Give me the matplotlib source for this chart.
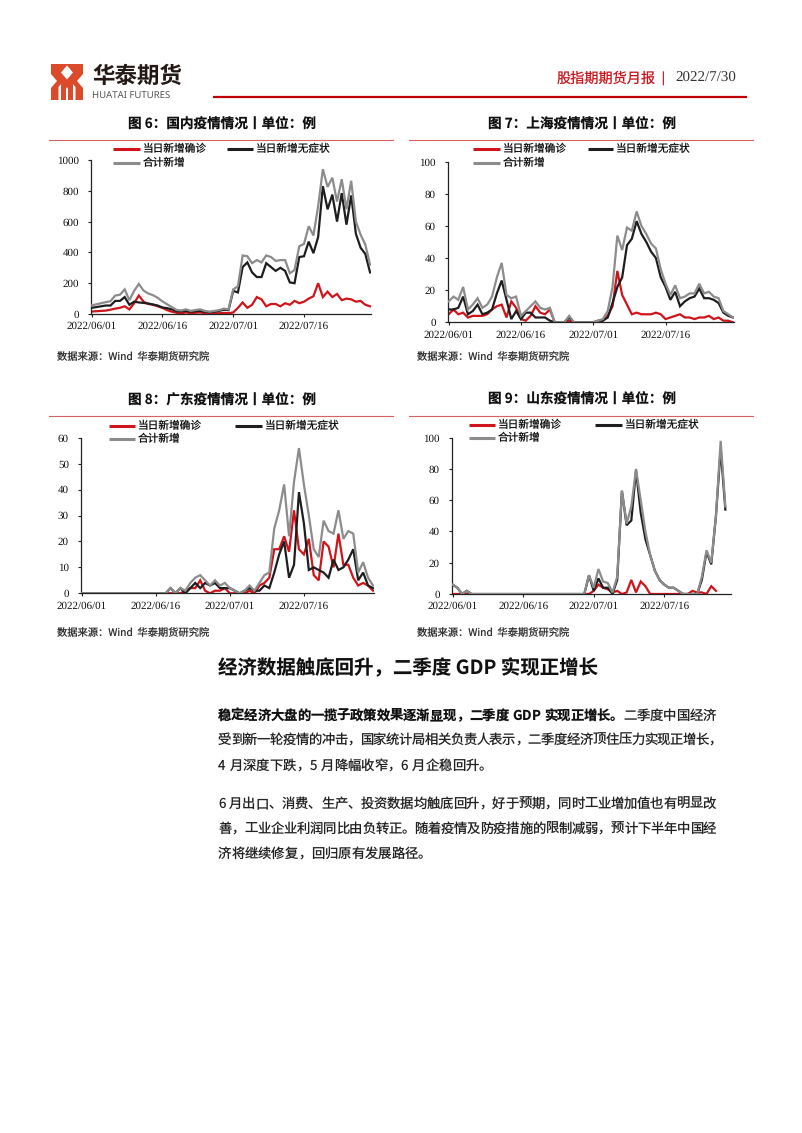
import numpy as np
import pandas as pd
import matplotlib
matplotlib.use("Agg")
import matplotlib.pyplot as plt
import matplotlib.dates as mdates
from matplotlib.patches import Rectangle, Polygon

plt.rcParams['font.family'] = ['Noto Sans CJK SC', 'DejaVu Sans']
plt.rcParams['text.hinting'] = 'no_hinting'
plt.rcParams['text.hinting_factor'] = 1

# ---------------- data ----------------
dates = pd.date_range('2022-06-01', periods=60, freq='D')
tick_dates = ['2022-06-01', '2022-06-16', '2022-07-01', '2022-07-16']
series_names = ['当日新增确诊', '当日新增无症状', '合计新增']

# 图6 国内
nat_confirmed = [16, 18, 20, 22, 28, 35, 40, 50, 30, 70,
                 120, 80, 65, 60, 50, 40, 25, 15, 8, 5,
                 10, 5, 8, 10, 5, 3, 5, 5, 7, 5,
                 10, 40, 75, 40, 60, 110, 95, 50, 65, 65,
                 50, 70, 60, 85, 70, 80, 100, 115, 200, 110,
                 145, 110, 130, 90, 100, 95, 80, 85, 60, 50]
nat_asym = [40, 45, 50, 55, 55, 85, 85, 110, 60, 80,
            75, 72, 68, 62, 55, 42, 38, 30, 18, 18,
            20, 15, 18, 20, 15, 12, 15, 20, 28, 25,
            150, 140, 305, 335, 270, 240, 240, 330, 305, 280,
            300, 280, 205, 200, 370, 375, 470, 395, 500, 830,
            680, 775, 600, 785, 580, 770, 520, 430, 390, 270]
nat_total = [56, 63, 70, 77, 83, 120, 125, 160, 90, 150,
             195, 152, 133, 122, 105, 82, 63, 45, 26, 23,
             30, 20, 26, 30, 20, 15, 20, 25, 35, 30,
             160, 180, 380, 375, 330, 350, 335, 380, 370, 345,
             350, 350, 265, 285, 440, 455, 570, 510, 700, 940,
             825, 885, 730, 875, 680, 865, 600, 515, 450, 320]

# 图7 上海
sh_confirmed = [5, 8, 5, 6, 3, 4, 4, 4, 5, 8,
                10, 11, 3, 13, 9, 2, 1, 4, 10, 6,
                5, 8, 0, 0, 0, 1, 0, 0, 0, 0,
                0, 0, 1, 4, 10, 32, 17, 11, 5, 6,
                5, 5, 5, 6, 5, 2, 3, 4, 5, 3,
                3, 2, 3, 3, 4, 2, 3, 1, 1, 0]
sh_asym = [8, 8, 9, 16, 5, 7, 11, 5, 6, 8,
           18, 26, 14, 2, 7, 2, 6, 6, 3, 3,
           3, 1, 0, 0, 0, 3, 0, 0, 0, 0,
           0, 1, 1, 3, 12, 22, 28, 48, 52, 63,
           55, 50, 44, 40, 28, 22, 14, 19, 10, 13,
           15, 16, 21, 15, 15, 14, 12, 6, 4, 3]
sh_total = [13, 16, 14, 22, 8, 11, 15, 9, 11, 16,
            28, 37, 17, 15, 16, 4, 7, 10, 13, 9,
            8, 9, 0, 0, 0, 4, 0, 0, 0, 0,
            0, 1, 2, 7, 22, 54, 45, 59, 57, 69,
            60, 55, 49, 46, 33, 24, 17, 23, 15, 16,
            18, 18, 24, 18, 19, 16, 15, 7, 5, 3]

# 图8 广东
gd_confirmed = [None] * 16 + [0, 0, 0, 0, 0, 1, 2, 2, 5, 1,
                              0, 1, 1, 2, 0, 0, 0, 0, 1, 0,
                              3, 4, 6, 17, 17, 22, 16, 32, 17, 15,
                              21, 7, 5, 20, 18, 10, 23, 11, 11, 6,
                              3, 4, 3, 1]
gd_asym = [0] * 18 + [2, 0, 2, 0, 2, 4, 2, 4, 3, 4,
                      2, 2, 2, 1, 0, 1, 2, 1, 1, 3,
                      2, 8, 15, 20, 6, 11, 39, 27, 9, 10,
                      9, 8, 6, 13, 9, 10, 13, 17, 5, 8,
                      3, 2]
gd_total = [0] * 18 + [2, 0, 2, 1, 4, 6, 7, 5, 3, 5,
                       3, 4, 2, 1, 0, 1, 3, 1, 4, 7,
                       8, 25, 32, 42, 22, 43, 56, 42, 30, 17,
                       14, 28, 24, 23, 32, 21, 24, 23, 8, 12,
                       6, 3]

# 图9 山东 (59 days)
sd_confirmed = [0, 0, 0, 0, 0] + [None] * 23 + [0, 0, 2, 6, 4, 3, 1, 2, 0, 1,
                                                9, 1, 8, 5, 0, 0, 0, 0, 0, 0,
                                                0, 0, 0, 2, 1, 1, 0, 5, 2]
sd_asym = [6, 4, 0, 2, 0] + [0] * 24 + [12, 2, 10, 4, 4, 0, 9, 66, 44,
                                         47, 79, 52, 35, 25, 15, 9, 6, 4, 4,
                                         2, 0, 0, 0, 0, 9, 27, 19, 50, 93, 54]
sd_total = [6, 4, 0, 2, 0] + [0] * 24 + [12, 4, 16, 8, 7, 1, 11, 66, 45,
                                          56, 80, 60, 40, 25, 15, 9, 6, 4, 4,
                                          2, 0, 0, 0, 0, 11, 28, 20, 50, 98, 56]

charts = [
    dict(title='图 6：国内疫情情况丨单位：例', data=(nat_confirmed, nat_asym, nat_total),
         yticks=[0, 200, 400, 600, 800, 1000]),
    dict(title='图 7：上海疫情情况丨单位：例', data=(sh_confirmed, sh_asym, sh_total),
         yticks=[0, 20, 40, 60, 80, 100]),
    dict(title='图 8：广东疫情情况丨单位：例', data=(gd_confirmed, gd_asym, gd_total),
         yticks=[0, 10, 20, 30, 40, 50, 60]),
    dict(title='图 9：山东疫情情况丨单位：例', data=(sd_confirmed, sd_asym, sd_total),
         yticks=[0, 20, 40, 60, 80, 100]),
]

# ---------------- layout (pixels) ----------------
W, H = 802, 1133
RED = '#D0141B'
BLACK = '#1E1E1E'
GRAY = '#8C8C8C'
colors = [RED, BLACK, GRAY]
zorders = [2, 3, 4]

layouts = [
    dict(rect=(90.7, 160.0, 371.0, 314.0), tx=222, ty=124, rule=(49, 393, 140),
         leg=(112.7, 140.0, 226.7, 253.3, 149.0, 162.7), src=(57, 357)),
    dict(rect=(447.7, 161.7, 734.0, 322.3), tx=582, ty=124, rule=(409, 753, 140),
         leg=(473.3, 500.0, 588.3, 613.3, 149.0, 162.7), src=(417, 357)),
    dict(rect=(80.7, 437.7, 374.0, 593.3), tx=222, ty=399, rule=(49, 393, 416),
         leg=(109.3, 135.0, 235.0, 261.7, 425.7, 439.3), src=(57, 633)),
    dict(rect=(451.7, 437.7, 731.0, 594.0), tx=582, ty=399, rule=(409, 753, 416),
         leg=(469.3, 495.0, 595.0, 621.7, 425.0, 438.3), src=(417, 633)),
]

fig = plt.figure(figsize=(W / 100, H / 100), dpi=100)
fig.patch.set_facecolor('white')

ov = fig.add_axes([0, 0, 1, 1], zorder=10)
ov.set_xlim(0, W)
ov.set_ylim(H, 0)
ov.axis('off')
ov.patch.set_alpha(0)


def rect_frac(l, t, r, b):
    return [l / W, 1 - b / H, (r - l) / W, (b - t) / H]


serif = 'Liberation Serif'
x0 = mdates.date2num(dates[0])

for ch, lay in zip(charts, layouts):
    ax = fig.add_axes(rect_frac(*lay['rect']))
    for vals, c, z in zip(ch['data'], colors, zorders):
        y = np.array([np.nan if v is None else v for v in vals], dtype=float)
        ax.plot(dates[:len(y)], y, color=c, lw=1.6, zorder=z, solid_joinstyle='miter')
    ax.set_ylim(ch['yticks'][0], ch['yticks'][-1])
    ax.set_xlim(x0 - 0.2, x0 + 59.2)
    ax.set_yticks(ch['yticks'])
    ax.set_xticks([mdates.date2num(pd.Timestamp(d)) for d in tick_dates])
    ax.xaxis.set_major_formatter(mdates.DateFormatter('%Y/%m/%d'))
    for s in ['top', 'right']:
        ax.spines[s].set_visible(False)
    for s in ['left', 'bottom']:
        ax.spines[s].set_color('#222222')
        ax.spines[s].set_linewidth(0.9)
    ax.tick_params(axis='both', direction='out', length=2.5, width=0.8, color='#222222',
                   labelsize=7.8, pad=3)
    ax.tick_params(axis='y', pad=6)
    for lab in ax.get_xticklabels() + ax.get_yticklabels():
        lab.set_fontfamily(serif)
        lab.set_color('#111111')
    ax.set_facecolor('none')

    ov.text(lay['tx'], lay['ty'], ch['title'], ha='center', va='center', fontsize=9.8,
            fontweight='bold', color='#111111')
    r0, r1, ry = lay['rule']
    ov.plot([r0, r1], [ry, ry], color='#D86060', lw=0.8)
    a0, a1, b0, b1, y1, y2 = lay['leg']
    ov.plot([a0, a1], [y1, y1], color=RED, lw=2.2, solid_capstyle='butt')
    ov.text(a1 + 2.5, y1, series_names[0], va='center', ha='left', fontsize=7.7, color='#111111')
    ov.plot([b0, b1], [y1, y1], color=BLACK, lw=2.2, solid_capstyle='butt')
    ov.text(b1 + 3, y1, series_names[1], va='center', ha='left', fontsize=7.7, color='#111111')
    ov.plot([a0, a1], [y2, y2], color=GRAY, lw=2.2, solid_capstyle='butt')
    ov.text(a1 + 2.5, y2, series_names[2], va='center', ha='left', fontsize=7.7, color='#111111')
    ov.text(lay['src'][0], lay['src'][1], '数据来源：Wind  华泰期货研究院', va='center', ha='left',
            fontsize=7.4, color='#333333')

# ---------------- header ----------------
LOGO = '#DC4A2C'
ov.add_patch(Rectangle((51, 64), 32, 36, facecolor=LOGO, edgecolor='none'))
ov.add_patch(Polygon([(67, 65.5), (73, 72.5), (67, 79.5), (61, 72.5)], closed=True,
                     facecolor='white', edgecolor='none'))
ov.add_patch(Polygon([(51, 74), (57, 81), (51, 88)], closed=True, facecolor='white', edgecolor='none'))
ov.add_patch(Polygon([(83, 74), (77, 81), (83, 88)], closed=True, facecolor='white', edgecolor='none'))
ov.add_patch(Polygon([(58.5, 100), (58.5, 87), (61, 84), (61, 100)], closed=True,
                     facecolor='white', edgecolor='none'))
ov.add_patch(Polygon([(75.5, 100), (75.5, 87), (73, 84), (73, 100)], closed=True,
                     facecolor='white', edgecolor='none'))
ov.add_patch(Polygon([(66, 100), (66, 89), (67, 87), (68, 89), (68, 100)], closed=True,
                     facecolor='white', edgecolor='none'))

ov.text(92, 76.5, '华泰期货', fontsize=16.2, fontweight='bold', color='#231815',
        va='center', ha='left')
ov.text(92.5, 96, 'HUATAI FUTURES', fontsize=6.9, color='#555555', va='center', ha='left',
        family=['Noto Sans', 'DejaVu Sans'])
ov.plot([212.7, 746.7], [97.3, 97.3], color='#C00000', lw=1.6, solid_capstyle='butt')
ov.text(557, 78.5, '股指期期货月报', fontsize=10.2, color='#C8161D', va='center', ha='left',
        fontweight='light')
ov.text(663, 78.5, '|', fontsize=10, color='#C8161D', va='center', ha='center',
        family=['DejaVu Sans'])
ov.text(675, 78.5, '2022/7/30', fontsize=11, color='#333333', va='center', ha='left', family=[serif])

# ---------------- body text ----------------
ov.text(218, 669, '经济数据触底回升，二季度 GDP 实现正增长', fontsize=14, fontweight='bold',
        color='#111111', va='center', ha='left')

BODY = 9.6
EM = BODY * 100 / 72
renderer = fig.canvas.get_renderer()


def char_width(ch, weight):
    if ch == ' ':
        return EM * 0.3
    t = ov.text(0, 0, ch, fontsize=BODY, fontweight=weight)
    w = t.get_window_extent(renderer).width
    t.remove()
    return w


def draw_line(segments, y, x_left, x_right=None):
    chars = []
    for text, weight, color in segments:
        for c in text:
            chars.append((c, weight, color))
    widths = [char_width(c, w) for c, w, _ in chars]
    n = len(chars)
    gap = 0.0
    if x_right is not None and n > 1:
        gap = (x_right - x_left - sum(widths)) / (n - 1)
    x = x_left
    base = round(y + 0.38 * EM)
    for (c, w, col), cw in zip(chars, widths):
        if c != ' ':
            ov.text(x, base, c, fontsize=BODY, fontweight=w, color=col, va='baseline', ha='left')
        x += cw + gap


TXT = '#222222'
para_lines = [
    ([('稳定经济大盘的一揽子政策效果逐渐显现，二季度 GDP 实现正增长。', 'bold', '#111111'),
      ('二季度中国经济', 'normal', TXT)], 715.0, 716.0),
    ([('受到新一轮疫情的冲击，国家统计局相关负责人表示，二季度经济顶住压力实现正增长，', 'normal', TXT)],
     739.3, 722.0),
    ([('4 月深度下跌，5 月降幅收窄，6 月企稳回升。', 'normal', TXT)], 765.0, None),
    ([('6 月出口、消费、生产、投资数据均触底回升，好于预期，同时工业增加值也有明显改', 'normal', TXT)],
     803.3, 716.0),
    ([('善，工业企业利润同比由负转正。随着疫情及防疫措施的限制减弱，预计下半年中国经', 'normal', TXT)],
     828.0, 716.0),
    ([('济将继续修复，回归原有发展路径。', 'normal', TXT)], 853.3, None),
]
for segs, y, xr in para_lines:
    draw_line(segs, y, 218.0, xr)

fig.savefig('out.png', dpi=100, facecolor='white')
